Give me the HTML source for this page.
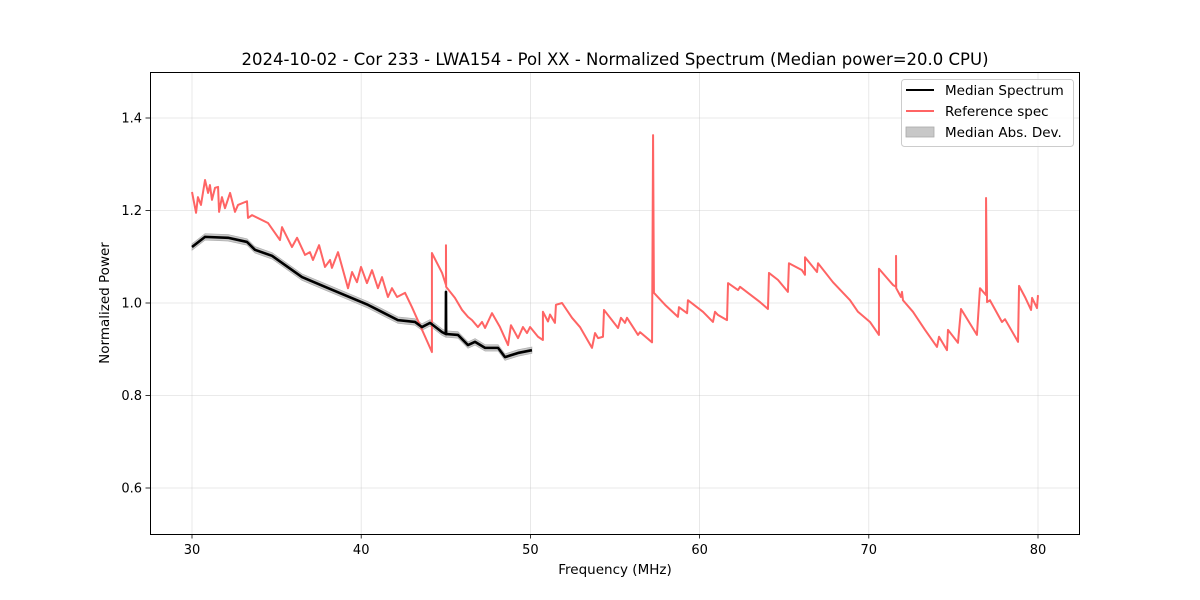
<!DOCTYPE html>
<html><head><meta charset="utf-8">
<style>
html,body{margin:0;padding:0;background:#fff;}
svg{display:block;font-family:"DejaVu Sans","Liberation Sans",sans-serif;}
</style></head>
<body>
<svg id="chart" width="1200" height="600" viewBox="0 0 1200 600">
  <rect x="0" y="0" width="1200" height="600" fill="#fff"/>
  <text x="615" y="65" font-size="16.5" text-anchor="middle" fill="#000">2024-10-02 - Cor 233 - LWA154 - Pol XX - Normalized Spectrum (Median power=20.0 CPU)</text>
  <g id="grid"></g>
  <g id="marks"></g>
  <rect x="150.5" y="72.5" width="929" height="462" fill="none" stroke="#000" stroke-width="1"/>
  <g id="ticks"></g>
  <text x="615" y="574" font-size="13.5" text-anchor="middle">Frequency (MHz)</text>
  <text x="0" y="0" font-size="13.5" text-anchor="middle" transform="translate(109,303) rotate(-90)">Normalized Power</text>
  <g>
    <rect x="901.5" y="79.5" width="172" height="67" rx="3" fill="#fff" fill-opacity="0.8" stroke="#ccc"/>
    <line x1="906" y1="90" x2="934" y2="90" stroke="#000" stroke-width="2"/>
    <text x="945" y="95" font-size="13.5">Median Spectrum</text>
    <line x1="906" y1="111" x2="934" y2="111" stroke="#ff6464" stroke-width="2"/>
    <text x="945" y="116" font-size="13.5">Reference spec</text>
    <rect x="906" y="127" width="28" height="10" fill="#c8c8c8" stroke="#aaa" stroke-width="0.8"/>
    <text x="945" y="137" font-size="13.5">Median Abs. Dev.</text>
  </g>
</svg>
<script>
const xTicks = [30, 40, 50, 60, 70, 80];
const yTicks = [0.6, 0.8, 1.0, 1.2, 1.4];
const yTickLabels = ["0.6", "0.8", "1.0", "1.2", "1.4"];
const refFreq = [30.00,30.24,30.35,30.53,30.77,30.95,31.06,31.18,31.36,31.54,31.60,31.77,31.95,32.25,32.54,32.72,33.25,33.31,33.55,34.49,35.20,35.32,35.91,36.21,36.68,36.97,37.15,37.51,37.86,38.16,38.27,38.63,39.22,39.46,39.75,39.99,40.34,40.64,40.99,41.23,41.58,41.82,42.12,42.59,43.00,44.18,44.18,44.78,45.01,45.01,45.02,45.54,45.96,46.31,46.55,46.90,47.14,47.32,47.73,48.20,48.68,48.85,49.27,49.56,49.80,49.98,50.45,50.74,50.74,51.04,51.16,51.45,51.51,51.87,52.46,52.93,53.64,53.82,54.00,54.29,54.35,55.18,55.35,55.59,55.71,56.36,56.48,57.19,57.25,57.30,57.96,58.72,58.78,59.26,59.31,60.20,60.79,60.91,61.09,61.62,61.68,62.27,62.39,63.57,64.04,64.10,64.63,65.22,65.28,66.05,66.23,66.23,66.94,67.00,67.88,68.89,69.36,70.07,70.60,70.60,71.43,71.61,71.61,71.62,71.90,71.96,72.02,72.61,73.32,74.03,74.15,74.62,74.68,75.27,75.45,76.39,76.57,76.93,76.93,76.99,77.16,77.87,78.05,78.82,78.88,79.23,79.59,79.65,79.94,80.00];
const refPower = [1.240,1.195,1.229,1.212,1.266,1.238,1.255,1.223,1.249,1.251,1.197,1.229,1.205,1.238,1.197,1.212,1.220,1.184,1.190,1.173,1.136,1.164,1.121,1.141,1.104,1.110,1.093,1.125,1.078,1.093,1.076,1.110,1.032,1.067,1.045,1.078,1.043,1.071,1.032,1.056,1.013,1.032,1.013,1.022,0.991,0.894,1.108,1.065,1.039,1.125,1.035,1.011,0.985,0.970,0.963,0.948,0.959,0.946,0.978,0.948,0.909,0.952,0.924,0.948,0.935,0.948,0.927,0.920,0.981,0.960,0.975,0.957,0.996,1.000,0.968,0.948,0.903,0.935,0.924,0.927,0.985,0.946,0.968,0.957,0.968,0.931,0.937,0.915,1.363,1.022,0.996,0.970,0.991,0.978,1.006,0.981,0.959,0.981,0.974,0.963,1.043,1.028,1.035,1.002,0.987,1.065,1.050,1.024,1.086,1.071,1.061,1.099,1.067,1.086,1.045,1.006,0.981,0.959,0.931,1.074,1.039,1.035,1.102,1.032,1.013,1.024,1.006,0.981,0.942,0.905,0.927,0.898,0.942,0.914,0.987,0.931,1.032,1.017,1.227,1.002,1.006,0.959,0.965,0.916,1.037,1.013,0.985,1.011,0.989,1.017];
const medFreq = [30.00,30.77,32.13,33.25,33.72,34.73,35.50,36.50,37.86,39.04,40.40,42.17,43.18,43.59,44.07,44.78,45.00,45.01,45.02,45.72,46.31,46.73,47.32,48.09,48.50,49.27,50.09];
const medPower = [1.121,1.143,1.141,1.132,1.115,1.102,1.082,1.056,1.035,1.017,0.996,0.963,0.959,0.948,0.957,0.937,0.933,1.024,0.933,0.931,0.909,0.916,0.903,0.903,0.883,0.892,0.898];
const madWidth = 0.007;

const NS = "http://www.w3.org/2000/svg";
const X = f => 192 + (f - 30) * 16.92;
const Y = v => 118 + (1.4 - v) * 462.5;
function mk(tag, attrs, parent){const e=document.createElementNS(NS,tag);for(const k in attrs)e.setAttribute(k,attrs[k]);parent.appendChild(e);return e;}
const grid=document.getElementById('grid'), ticks=document.getElementById('ticks'), marks=document.getElementById('marks');
xTicks.forEach(t=>{
  const gl=mk('line',{x1:X(t),x2:X(t),y1:72,y2:534,stroke:'#b0b0b0','stroke-opacity':0.35,'stroke-width':0.8},grid);
  
  
  const tk=mk('line',{x1:X(t),x2:X(t),y1:534,y2:538.5,stroke:'#000','stroke-width':0.8},ticks);
  
  
  const tl=mk('text',{x:X(t),y:554,'font-size':13,'text-anchor':'middle'},ticks);
  tl.textContent=String(t);
  
  
});
yTicks.forEach((t,i)=>{
  const gl=mk('line',{x1:150,x2:1080,y1:Y(t),y2:Y(t),stroke:'#b0b0b0','stroke-opacity':0.35,'stroke-width':0.8},grid);
  
  
  const tk=mk('line',{x1:145.5,x2:150,y1:Y(t),y2:Y(t),stroke:'#000','stroke-width':0.8},ticks);
  
  
  const tl=mk('text',{x:142,y:Y(t)+4.5,'font-size':13,'text-anchor':'end'},ticks);
  tl.textContent=yTickLabels[i];
  
  
});
// MAD band
let up=medFreq.map((f,i)=>X(f)+','+Y(medPower[i]+madWidth));
let dn=medFreq.map((f,i)=>X(f)+','+Y(medPower[i]-madWidth)).reverse();
const band=mk('polygon',{points:up.concat(dn).join(' '),fill:'#c8c8c8',stroke:'#aaa','stroke-width':0.6},marks);


const ref=mk('polyline',{points:refFreq.map((f,i)=>X(f)+','+Y(refPower[i])).join(' '),fill:'none',stroke:'#ff6464','stroke-width':2,'stroke-linejoin':'round'},marks);


const med=mk('polyline',{points:medFreq.map((f,i)=>X(f)+','+Y(medPower[i])).join(' '),fill:'none',stroke:'#000','stroke-width':2.6,'stroke-linejoin':'round'},marks);


</script>
</body></html>
